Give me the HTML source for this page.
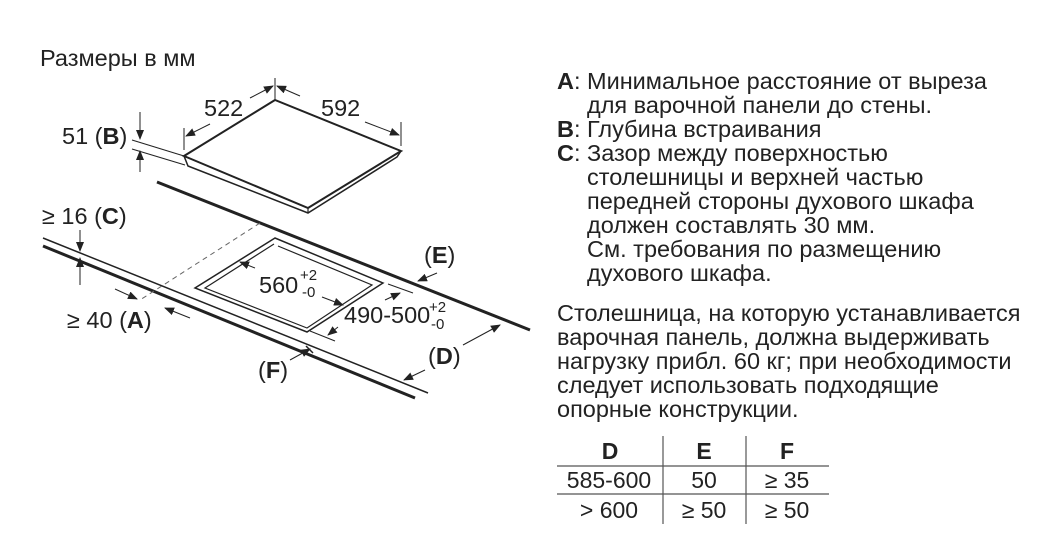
<!DOCTYPE html>
<html><head><meta charset="utf-8"><style>
body{margin:0;background:#fff;width:1045px;height:535px;overflow:hidden}
svg{display:block}
text{font-family:"Liberation Sans",Arial,sans-serif;fill:#222}
</style></head><body>
<svg width="1045" height="535" viewBox="0 0 1045 535">
<defs><marker id="a" markerWidth="10" markerHeight="8" refX="9" refY="4" orient="auto" markerUnits="userSpaceOnUse"><path d="M0,0 L10,4 L0,8z" fill="#222"/></marker></defs>
<g stroke="#222" fill="none">
<path d="M275,100 L184,156 L308,208 L401,151 Z" stroke-width="2"/>
<path d="M184,156 L188,166 L308,213 L397,157 L401,151" stroke-width="1.5"/>
<path d="M308,208 L308,213" stroke-width="1.2"/>
<line x1="157" y1="182" x2="530" y2="330" stroke-width="3"/>
<line x1="43" y1="238" x2="428" y2="393" stroke-width="1.5"/>
<line x1="43" y1="246" x2="415" y2="398" stroke-width="3"/>
<line x1="260" y1="223" x2="140" y2="300" stroke-width="1" stroke-dasharray="5,4" stroke="#666"/>
<path d="M275,238 L195,288 L307,332 L383,283 Z" stroke-width="1.5"/>
<path d="M274,244 L205,288 L307,328 L372,285 L278,246" stroke-width="1.2"/>
<line x1="275" y1="78" x2="275" y2="100" stroke-width="1"/>
<line x1="184" y1="128" x2="184" y2="150" stroke-width="1"/>
<line x1="401" y1="122" x2="401" y2="146" stroke-width="1"/>
<line x1="250" y1="98" x2="273" y2="86" stroke-width="1" marker-end="url(#a)"/>
<line x1="210" y1="124" x2="186" y2="136" stroke-width="1" marker-end="url(#a)"/>
<line x1="300" y1="96" x2="277" y2="86" stroke-width="1" marker-end="url(#a)"/>
<line x1="365" y1="122" x2="399" y2="135" stroke-width="1" marker-end="url(#a)"/>
<line x1="132" y1="140" x2="184" y2="156" stroke-width="1"/>
<line x1="132" y1="149" x2="185" y2="165" stroke-width="1"/>
<line x1="140" y1="112" x2="140" y2="139" stroke-width="1" marker-end="url(#a)"/>
<line x1="140" y1="172" x2="140" y2="151" stroke-width="1" marker-end="url(#a)"/>
<line x1="80" y1="230" x2="80" y2="251" stroke-width="1" marker-end="url(#a)"/>
<line x1="80" y1="285" x2="80" y2="258" stroke-width="1" marker-end="url(#a)"/>
<line x1="115" y1="289" x2="137" y2="299" stroke-width="1" marker-end="url(#a)"/>
<line x1="190" y1="318" x2="165" y2="308" stroke-width="1" marker-end="url(#a)"/>
<line x1="255" y1="268" x2="240" y2="262" stroke-width="1" marker-end="url(#a)"/>
<line x1="322" y1="297" x2="343" y2="305" stroke-width="1" marker-end="url(#a)"/>
<line x1="388" y1="284" x2="413" y2="293" stroke-width="1"/>
<line x1="310" y1="331" x2="335" y2="341" stroke-width="1"/>
<line x1="385" y1="300" x2="400" y2="293" stroke-width="1" marker-end="url(#a)"/>
<line x1="338" y1="327" x2="328" y2="335" stroke-width="1" marker-end="url(#a)"/>
<line x1="437" y1="273" x2="418" y2="281" stroke-width="1" marker-end="url(#a)"/>
<line x1="463" y1="345" x2="500" y2="325" stroke-width="1" marker-end="url(#a)"/>
<line x1="425" y1="370" x2="404" y2="380" stroke-width="1" marker-end="url(#a)"/>
<line x1="290" y1="360" x2="310" y2="349" stroke-width="1" marker-end="url(#a)"/>
<line x1="306" y1="346" x2="313" y2="353" stroke-width="1.5"/>
</g>
<g font-size="23.5">
<text x="40" y="66">Размеры в мм</text>
<text x="204" y="116">522</text>
<text x="321" y="116">592</text>
<text x="62" y="144">51 (<tspan font-weight="bold">B</tspan>)</text>
<text x="42" y="224">≥ 16 (<tspan font-weight="bold">C</tspan>)</text>
<text x="67" y="328">≥ 40 (<tspan font-weight="bold">A</tspan>)</text>
<text x="259" y="293">560</text><text x="300" y="280" font-size="15">+2</text><text x="302" y="297" font-size="15">-0</text>
<text x="344" y="323">490-500</text><text x="429" y="312" font-size="15">+2</text><text x="431" y="329" font-size="15">-0</text>
<text x="424" y="263">(<tspan font-weight="bold">E</tspan>)</text>
<text x="428" y="364">(<tspan font-weight="bold">D</tspan>)</text>
<text x="258" y="378">(<tspan font-weight="bold">F</tspan>)</text>
</g>
<g font-size="23.5">
<text x="557" y="89"><tspan font-weight="bold">A</tspan>:</text><text x="587" y="89">Минимальное расстояние от выреза</text>
<text x="587" y="113">для варочной панели до стены.</text>
<text x="557" y="137"><tspan font-weight="bold">B</tspan>:</text><text x="587" y="137">Глубина встраивания</text>
<text x="557" y="161"><tspan font-weight="bold">C</tspan>:</text><text x="587" y="161">Зазор между поверхностью</text>
<text x="587" y="185">столешницы и верхней частью</text>
<text x="587" y="209">передней стороны духового шкафа</text>
<text x="587" y="233">должен составлять 30 мм.</text>
<text x="587" y="257">См. требования по размещению</text>
<text x="587" y="281">духового шкафа.</text>
<text x="557" y="321">Столешница, на которую устанавливается</text>
<text x="557" y="345">варочная панель, должна выдерживать</text>
<text x="557" y="369">нагрузку прибл. 60 кг; при необходимости</text>
<text x="557" y="393">следует использовать подходящие</text>
<text x="557" y="417">опорные конструкции.</text>
</g>
<g stroke="#555" stroke-width="1.2">
<line x1="557" y1="466" x2="829" y2="466"/>
<line x1="557" y1="494" x2="829" y2="494"/>
<line x1="663" y1="436" x2="663" y2="524"/>
<line x1="746" y1="436" x2="746" y2="524"/>
</g>
<g font-size="23" text-anchor="middle">
<text x="610" y="459" font-weight="bold">D</text>
<text x="704" y="459" font-weight="bold">E</text>
<text x="787" y="459" font-weight="bold">F</text>
<text x="609" y="488">585-600</text>
<text x="704" y="488">50</text>
<text x="787" y="488">≥ 35</text>
<text x="609" y="518">&gt; 600</text>
<text x="704" y="518">≥ 50</text>
<text x="787" y="518">≥ 50</text>
</g>
</svg>
</body></html>
